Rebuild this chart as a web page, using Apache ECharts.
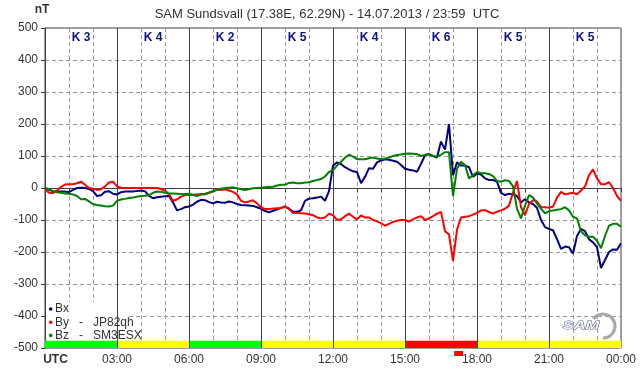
<!DOCTYPE html>
<html>
<head>
<meta charset="utf-8">
<script src="https://cdn.jsdelivr.net/npm/echarts@6/dist/echarts.min.js"></script>
<style>
  html, body { margin: 0; padding: 0; background: #fff; }
  #chart { width: 642px; height: 376px; }
</style>
</head>
<body>
<div id="chart"></div>
<script>
// K index per 3 hour block and its colour in the bottom band
const kLabels = ['K 3', 'K 4', 'K 2', 'K 5', 'K 4', 'K 6', 'K 5', 'K 5'];
const kColors = ['#00ff00', '#ffff00', '#00ff00', '#ffff00', '#ffff00', '#ff0000', '#ffff00', '#ffff00'];
const hourLabels = ['UTC', '03:00', '06:00', '09:00', '12:00', '15:00', '18:00', '21:00', '00:00'];
const seriesNames = ['Bx', 'By', 'Bz'];
const stations = ['', 'JP82qh', 'SM3ESX'];
const seriesColors = ['#000080', '#ff0000', '#008000'];
const alertSpan = [17.05, 17.42];

// nT, one value every 10 minutes from 00:00 to 24:00 (one row per hour)
const bx = [
  0, -6, -10, -11, -11, -11,
  -13, -6, 0, 1, 0, -3,
  -10, -25, -23, -12, -10, -18,
  -20, -13, -11, -11, -11, -9,
  -8, -10, -25, -32, -29, -27,
  -26, -25, -45, -70, -66, -60,
  -58, -52, -43, -37, -38, -44,
  -48, -43, -45, -46, -42, -45,
  -50, -53, -54, -55, -56, -60,
  -65, -72, -76, -71, -67, -62,
  -58, -64, -74, -74, -70, -40,
  -33, -32, -30, -27, -40, -10,
  70, 80, 75, 65, 58, 52,
  50, 15, 35, 62, 60, 80,
  86, 90, 88, 85, 82, 72,
  60, 57, 55, 51, 75, 103,
  105, 100, 95, 145, 120, 200,
  40, 80, 70, 70, 65, 35,
  45, 42, 30, 25, 25, 20,
  -15, -22, -18, -20, -25, -45,
  -35, -45, -50, -62, -100, -122,
  -128, -132, -160, -190, -183, -185,
  -205, -150, -128, -135, -160, -170,
  -185, -250, -225, -200, -192, -193,
  -173
];
const by = [
  -4, -15, -16, -8, 3, 11,
  12, 12, 15, 20, 10, 0,
  -2, -6, -4, 5, 17, 20,
  5, 1, 0, 0, 0, 0,
  0, 0, 0, 0, 0, -3,
  -8, -20, -40, -36, -27, -22,
  -22, -21, -20, -19, -20, -16,
  -10, -5, -6, -4, -8, -12,
  -20, -40, -45, -42, -38, -48,
  -60, -66, -66, -64, -63, -63,
  -58, -66, -78, -78, -79, -80,
  -82, -85, -92, -95, -92, -80,
  -85, -100, -98, -88, -80, -90,
  -98, -86, -92, -92, -100, -104,
  -110, -118, -112, -106, -102, -100,
  -100, -105, -98, -92, -88, -100,
  -95, -88, -80, -75, -135, -145,
  -228, -130, -92, -90, -88, -83,
  -78, -70, -69, -75, -80, -74,
  -70, -65, -55, -15, 22, -60,
  -85, -50, -38, -42, -60, -60,
  -62, -58, -30, -12, -20, -17,
  -15, -20, -8, 5, 40, 58,
  30, 12, 12, 18, 0, -25,
  -40
];
const bz = [
  0, -4, -10, -13, -15, -17,
  -18, -20, -25, -35, -34, -42,
  -50, -53, -55, -57, -58, -55,
  -40, -36, -34, -31, -30, -27,
  -25, -24, -22, -15, -11, -12,
  -15, -17, -17, -18, -19, -19,
  -18, -22, -25, -20, -18, -14,
  -10, -6, -2, 0, 1, 2,
  -1, -4, -6, -4, -1, 0,
  1, 2, 3, 4, 8, 10,
  10, 16, 17, 15, 15, 17,
  18, 22, 25, 28, 36, 50,
  56, 70, 82, 95, 104, 98,
  90, 90, 90, 93, 95, 92,
  90, 92, 95, 100, 103, 105,
  107, 108, 107, 106, 100, 103,
  107, 100, 98, 104, 112, 112,
  -25, 60, 82, 72, 30, 40,
  50, 46, 46, 44, 37, 22,
  20, 24, 22, 5, -65, -95,
  -55, -22, -30, -48, -65, -79,
  -72, -70, -68, -66, -60, -70,
  -90, -95, -135, -148, -152, -152,
  -165, -188, -150, -118, -112, -112,
  -121
];
// sample times in hours
const times = bx.map((_, i) => i / 6);

const FONT = '"Liberation Sans", Arial, sans-serif';
const chart = echarts.init(document.getElementById('chart'));

const lineSeries = [bx, by, bz].map((vals, i) => ({
  name: seriesNames[i],
  type: 'line',
  z: 3,
  showSymbol: false,
  animation: false,
  data: times.map((t, j) => [t, vals[j]]),
  lineStyle: { color: seriesColors[i], width: 2 },
  itemStyle: { color: seriesColors[i] }
}));

const option = {
  backgroundColor: '#fff',
  animation: false,
  grid: { left: 45, right: 21, top: 28, bottom: 28, show: true, borderColor: '#404040', borderWidth: 1 },
  xAxis: [
    {
      type: 'value', min: 0, max: 24, interval: 1, position: 'bottom',
      axisLine: { show: true, lineStyle: { color: '#404040' } },
      axisTick: { show: true, length: 4, lineStyle: { color: '#404040' } },
      splitLine: { show: true, lineStyle: { color: '#999', type: [4, 3] } },
      axisLabel: {
        margin: 6, fontSize: 12, color: '#333', fontFamily: FONT,
        formatter: v => v % 3 !== 0 ? '' : (v === 0 ? '{u|' + hourLabels[0] + '}' : hourLabels[v / 3]),
        rich: { u: { fontWeight: 'bold', fontSize: 12, color: '#333', fontFamily: FONT, padding: [0, 0, 0, 21] } }
      }
    },
    {
      type: 'category', data: kLabels, position: 'top',
      axisLine: { show: false }, axisTick: { show: false }, splitLine: { show: false },
      axisLabel: { inside: true, margin: 4, color: '#10108a', fontWeight: 'bold', fontSize: 12, fontFamily: FONT }
    }
  ],
  yAxis: {
    type: 'value', min: -500, max: 500, interval: 100,
    axisLine: { show: true, lineStyle: { color: '#404040' } },
    axisTick: { show: true, length: 4, lineStyle: { color: '#404040' } },
    splitLine: { show: true, lineStyle: { color: '#999', type: [4, 3] } },
    axisLabel: { margin: 7, fontSize: 12, color: '#333', fontFamily: FONT }
  },
  series: [
    {
      type: 'line', data: [], z: 2, silent: true,
      markLine: {
        silent: true, symbol: 'none', z: 2, animation: false,
        label: { show: false },
        lineStyle: { color: '#404040', type: 'solid', width: 1 },
        data: [3, 6, 9, 12, 15, 18, 21].map(h => ({ xAxis: h })).concat([{ yAxis: 0 }])
      },
      markArea: {
        silent: true, z: 2, animation: false,
        data: kColors.map((c, i) => [
          { xAxis: i * 3, yAxis: -500, itemStyle: { color: c, opacity: 1 } },
          { xAxis: i * 3 + 3, yAxis: -477 }
        ])
      }
    }
  ].concat(lineSeries)
};
chart.setOption(option);

// legend, title, unit and logo
const graphics = [
  { type: 'text', x: 327, y: 14, style: { text: 'SAM Sundsvall (17.38E, 62.29N) - 14.07.2013 / 23:59  UTC', align: 'center', verticalAlign: 'middle', font: '13px ' + FONT, fill: '#333' } },
  { type: 'text', x: 42, y: 10, style: { text: 'nT', align: 'center', verticalAlign: 'middle', font: 'bold 12px ' + FONT, fill: '#333' } },
  { type: 'rect', z: 1, shape: { x: 46, y: 302, width: 83, height: 39 }, style: { fill: '#fff' } }
];
seriesNames.forEach((n, i) => {
  const y = 309 + i * 13.2;
  graphics.push({ type: 'circle', z: 4, shape: { cx: 50.7, cy: y, r: 1.8 }, style: { fill: seriesColors[i] } });
  graphics.push({ type: 'text', z: 4, x: 55, y: y, style: { text: stations[i] ? n + '   -   ' + stations[i] : n, verticalAlign: 'middle', font: '12px ' + FONT, fill: '#333' } });
});
const ax0 = chart.convertToPixel({ xAxisIndex: 0 }, alertSpan[0]);
const ax1 = chart.convertToPixel({ xAxisIndex: 0 }, alertSpan[1]);
graphics.push({ type: 'rect', shape: { x: ax0, y: 351, width: ax1 - ax0, height: 5 }, style: { fill: '#ff0000' } });
// SAM logo: grey swoosh and wide outlined italic letters
graphics.push({ type: 'arc', z: 4, shape: { cx: 603, cy: 326, r: 12, startAngle: -Math.PI * 0.8, endAngle: Math.PI * 0.5 }, style: { stroke: '#a8a8a8', lineWidth: 3, fill: null } });
graphics.push({ type: 'text', z: 5, x: 581, y: 326, scaleX: 1.5, style: { text: 'SAM', align: 'center', verticalAlign: 'middle', font: 'italic bold 11px ' + FONT, fill: '#f4f4f8', stroke: '#5c6385', lineWidth: 0.8 } });
chart.setOption({ graphic: graphics });
</script>
</body>
</html>
